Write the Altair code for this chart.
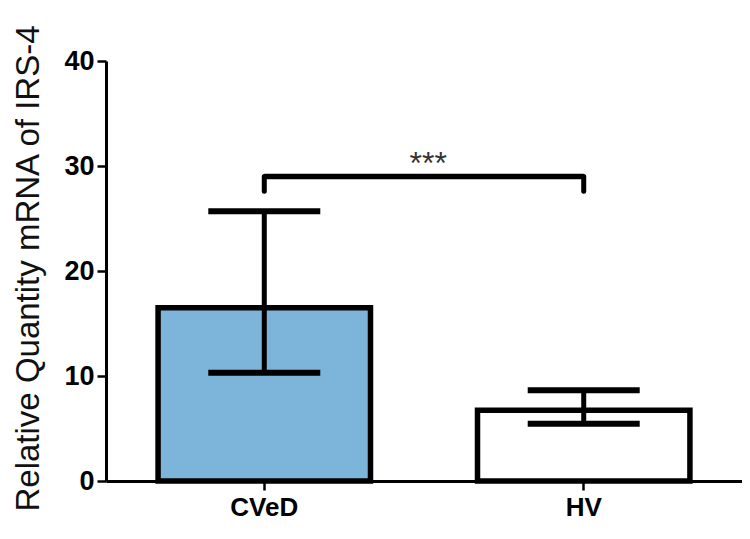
import altair as alt
import pandas as pd

groups = ["CVeD", "HV"]
means = [16.5, 6.75]
err_low = [10.3, 5.45]
err_high = [25.7, 8.65]
fills = ["#7db5da", "#ffffff"]

bracket_y = 29.0
bracket_end = 27.6
star_y = 31.0
star_label = "***"

df = pd.DataFrame({"group": groups, "mean": means, "lo": err_low, "hi": err_high, "fill": fills})
bracket = pd.DataFrame({"a": [groups[0]], "b": [groups[1]], "y": [bracket_y]})
ends = pd.DataFrame({"group": groups, "y": [bracket_y] * 2, "y2": [bracket_end] * 2})
stars = pd.DataFrame({"group": [groups[0]], "y": [star_y], "t": [star_label]})

FONT = "Liberation Sans"

xenc = alt.X("group:N", sort=groups,
             scale=alt.Scale(paddingInner=0.335, paddingOuter=0.163),
             axis=alt.Axis(title=None, labelAngle=0, labelFont=FONT, labelFontSize=26,
                           labelFontWeight="bold", labelColor="black", labelPadding=4,
                           domainColor="black", domainWidth=3, tickColor="black",
                           tickWidth=2.5, tickSize=9))
yscale = alt.Scale(domain=[0, 40])

bars = alt.Chart(df).mark_bar(stroke="black", strokeWidth=5.5).encode(
    x=xenc,
    y=alt.Y("mean:Q", scale=yscale,
            axis=alt.Axis(title="Relative Quantity mRNA of IRS-4", values=[0, 10, 20, 30, 40],
                          grid=False, labelFont=FONT, labelFontSize=27, labelFontWeight="bold",
                          labelColor="black", labelPadding=3, domainColor="black", domainWidth=3,
                          tickColor="black", tickWidth=2.5, tickSize=9,
                          titleFont=FONT, titleFontSize=33, titleFontWeight="normal",
                          titleColor="#111", titleAngle=270, titleAlign="center",
                          titleBaseline="middle", titleX=-78, titleY=207)),
    fill=alt.Fill("fill:N", scale=None),
)

stems = alt.Chart(df).mark_rule(color="black", strokeWidth=5).encode(
    x=alt.X("group:N", sort=groups), y="lo:Q", y2="hi:Q")
cap_hi = alt.Chart(df).mark_tick(color="black", opacity=1, size=112, thickness=6,
                                 orient="horizontal").encode(
    x=alt.X("group:N", sort=groups), y="hi:Q")
cap_lo = alt.Chart(df).mark_tick(color="black", opacity=1, size=112, thickness=6,
                                 orient="horizontal").encode(
    x=alt.X("group:N", sort=groups), y="lo:Q")

br = alt.Chart(bracket).mark_rule(color="black", strokeWidth=5.5).encode(
    x=alt.X("a:N", sort=groups), x2="b:N", y="y:Q")
br_ends = alt.Chart(ends).mark_rule(color="black", strokeWidth=5, strokeCap="round").encode(
    x=alt.X("group:N", sort=groups), y="y:Q", y2="y2:Q")
star_txt = alt.Chart(stars).mark_text(font=FONT, fontSize=32, color="#333", baseline="alphabetic",
                                      xOffset=164, dy=18).encode(
    x=alt.X("group:N", sort=groups), y="y:Q", text="t:N")

chart = alt.layer(bars, stems, cap_hi, cap_lo, br, br_ends, star_txt).properties(
    width=636, height=420,
    background="white",
    autosize=alt.AutoSizeParams(type="none"),
    padding={"left": 98, "top": 53, "right": 0, "bottom": 50},
).configure_view(stroke="transparent", strokeWidth=0).configure_axis(grid=False)

chart.save("out.html", embed_options={"renderer": "svg", "actions": False})
